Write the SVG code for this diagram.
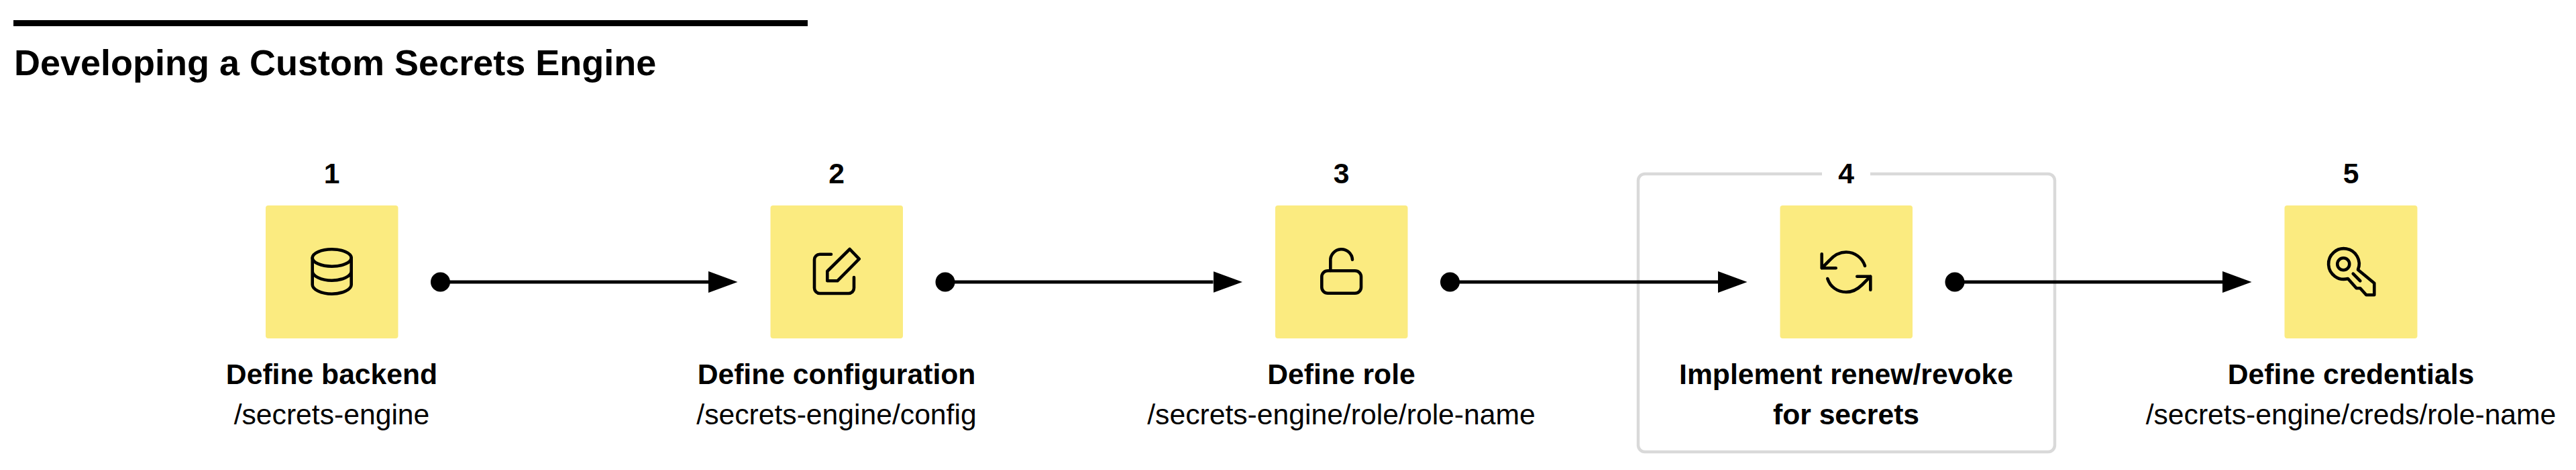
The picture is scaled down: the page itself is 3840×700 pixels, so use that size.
<svg xmlns="http://www.w3.org/2000/svg" width="3840" height="700" viewBox="0 0 3840 700">
<style>
text{font-family:"Liberation Sans",Arial,sans-serif;fill:#000;text-anchor:middle;font-size:42.670px}
.b{font-weight:700}
.title{font-size:54px;font-weight:700;text-anchor:start}
.card{fill:#fbeb80}
.ic{fill:none;stroke:#000;stroke-width:4.600;stroke-linecap:round;stroke-linejoin:round}
.link{fill:none;stroke:#000;stroke-width:5}
.frame{fill:none;stroke:#d9d9d9;stroke-width:4.500}
</style>
<defs>
<marker id="arrow" markerUnits="userSpaceOnUse" markerWidth="44" markerHeight="32" refX="0" refY="16" orient="auto"><path d="M0 0L43.500 16L0 32Z" fill="#000"/></marker>
<marker id="dot" markerUnits="userSpaceOnUse" markerWidth="30" markerHeight="30" refX="15" refY="15" orient="auto"><circle cx="15" cy="15" r="14.500" fill="#000"/></marker>
</defs>
<rect width="3840" height="700" fill="#fff"/>
<g id="header">
<rect x="20" y="30" width="1184" height="9" fill="#000"/>
<text class="title" x="21" y="111.500">Developing a Custom Secrets Engine</text>
</g>
<g id="group-frame">
<path class="frame" d="M2716 259H2452a10 10 0 0 0-10 10V663a10 10 0 0 0 10 10H3053a10 10 0 0 0 10-10V269a10 10 0 0 0-10-10H2788"/>
</g>
<g id="connectors">
<path class="link" d="M656.500 420H1056" marker-start="url(#dot)" marker-end="url(#arrow)"/>
<path class="link" d="M1409 420H1808.500" marker-start="url(#dot)" marker-end="url(#arrow)"/>
<path class="link" d="M2161.500 420H2561" marker-start="url(#dot)" marker-end="url(#arrow)"/>
<path class="link" d="M2914 420H3313" marker-start="url(#dot)" marker-end="url(#arrow)"/>
</g>
<g id="node-1">
<text class="b" x="494.500" y="272.500">1</text>
<rect class="card" x="396" y="306" width="197.500" height="198" rx="4"/>
<path class="ic" d="M465.700 384V424C465.700 431 478.700 437.700 494.700 437.700S523.700 431 523.700 424V384M465.700 404C465.700 411 478.700 417.700 494.700 417.700S523.700 411 523.700 404"/>
<ellipse class="ic" cx="494.700" cy="384" rx="29" ry="12.700"/>
<text class="b" x="494.500" y="572">Define backend</text>
<text x="494.500" y="631.500">/secrets-engine</text>
</g>
<g id="node-2">
<text class="b" x="1247" y="272.500">2</text>
<rect class="card" x="1148.500" y="306" width="197.500" height="198" rx="4"/>
<path class="ic" d="M1239 378.700H1222a8 8 0 0 0-8 8V429a8 8 0 0 0 8 8H1265a8 8 0 0 0 8-8V413"/>
<path class="ic" d="M1266.700 371L1280.700 385.700L1248.300 418.300H1233.300V404Z"/>
<text class="b" x="1247" y="572">Define configuration</text>
<text x="1247" y="631.500">/secrets-engine/config</text>
</g>
<g id="node-3">
<text class="b" x="1999.500" y="272.500">3</text>
<rect class="card" x="1901" y="306" width="197.500" height="198" rx="4"/>
<rect class="ic" x="1970.300" y="403.300" width="58.700" height="33.400" rx="9"/>
<path class="ic" d="M1983.300 403V388.500A16.300 16.300 0 0 1 2016 386.700"/>
<text class="b" x="1999.500" y="572">Define role</text>
<text x="1999.500" y="631.500">/secrets-engine/role/role-name</text>
</g>
<g id="node-4">
<text class="b" x="2752" y="272.500">4</text>
<rect class="card" x="2653.500" y="306" width="197.500" height="198" rx="4"/>
<path class="ic" d="M2715.700 378.300V399.300H2736.700M2715.700 399.300L2727 388C2735 379 2743 375.500 2752 375.500C2765 375.500 2776 384 2780 396"/>
<path class="ic" d="M2768.300 411.700H2788.300V431.700M2724.300 415C2728 427 2739 435 2752 435C2761 435 2769 431 2776 424L2788.300 411.700"/>
<text class="b" x="2752" y="572">Implement renew/revoke</text>
<text class="b" x="2752" y="631.500">for secrets</text>
</g>
<g id="node-5">
<text class="b" x="3504.500" y="272.500">5</text>
<rect class="card" x="3405.500" y="306" width="198" height="198" rx="4"/>
<path class="ic" d="M3500 415A22.800 22.800 0 1 1 3515 401.700L3539.300 421.700V439.300H3527.300L3518.300 429.300H3512.700Z"/>
<circle class="ic" cx="3493.300" cy="393.300" r="9"/>
<path class="ic" d="M3507.700 407.700L3518.300 418.300"/>
<text class="b" x="3504.500" y="572">Define credentials</text>
<text x="3504.500" y="631.500">/secrets-engine/creds/role-name</text>
</g>
</svg>
